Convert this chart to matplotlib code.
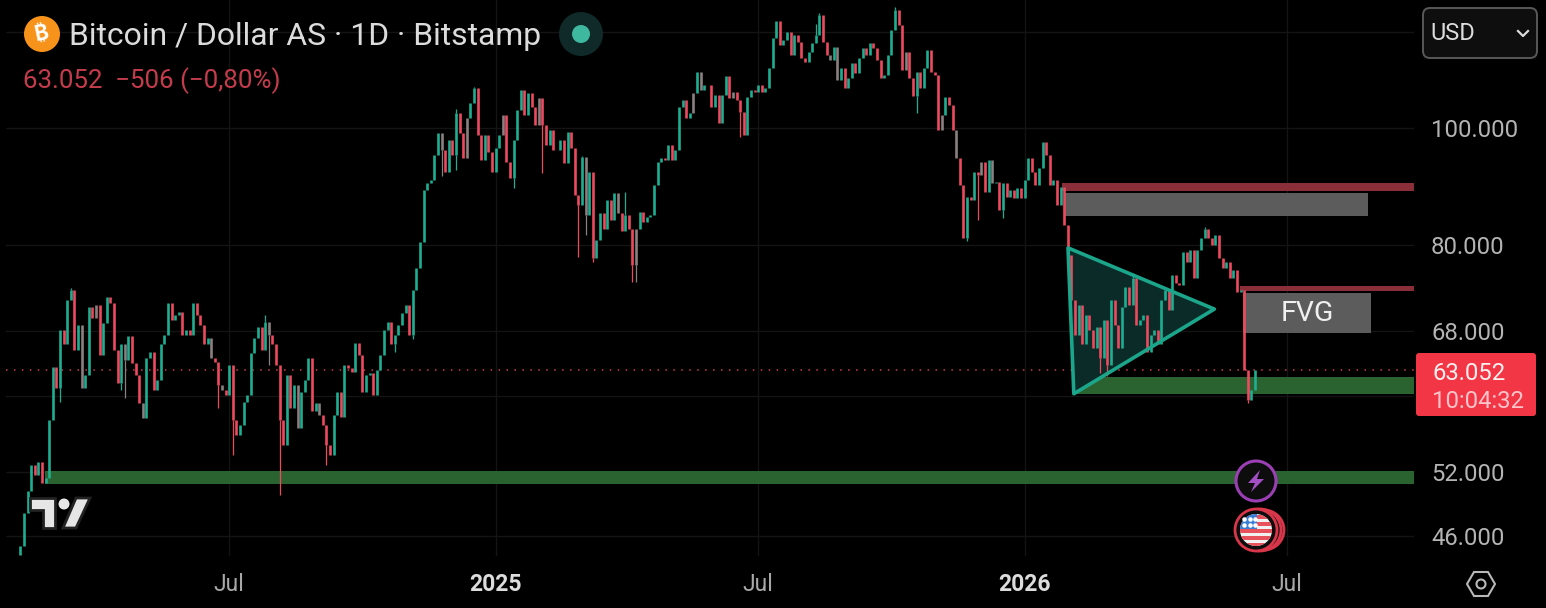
import pandas as pd
import matplotlib
matplotlib.use('Agg')
from matplotlib import pyplot as plt
from matplotlib import dates as mpl_dates
from matplotlib.patches import Circle, Polygon, FancyBboxPatch, Rectangle

plt.rcParams['font.family'] = ['Roboto', 'DejaVu Sans']

# closes in thousand USD, one value every ~2.5 days
close_k = [
    45.15, 48.05, 50.15, 52.65, 51.65, 52.95, 50.85, 51.35, 57.4, 63.4,
    61.0, 68.05, 66.25, 72.05, 73.45, 65.55, 68.75, 61.0, 62.5, 71.15,
    69.65, 71.45, 64.95, 69.05, 72.45, 71.65, 65.55, 61.5, 66.25, 64.3,
    67.25, 63.9, 62.5, 59.3, 57.6, 64.5, 65.35, 60.7, 61.9, 66.25,
    67.45, 71.65, 69.45, 70.05, 70.45, 67.45, 68.05, 67.45, 71.65, 70.05,
    68.75, 66.25, 67.05, 64.5, 64.0, 61.3, 60.7, 60.2, 63.7, 57.4,
    55.8, 56.8, 59.4, 60.2, 65.15, 67.05, 68.45, 65.55, 69.15, 67.45,
    66.25, 63.7, 57.4, 54.65, 62.5, 58.7, 61.3, 56.5, 60.5, 61.9,
    64.5, 58.3, 59.3, 57.9, 56.8, 54.65, 53.65, 57.9, 60.5, 57.7,
    63.7, 63.3, 62.8, 66.45, 64.95, 60.5, 62.5, 62.7, 60.2, 63.1,
    64.95, 68.05, 69.15, 66.25, 67.45, 68.75, 70.35, 71.45, 67.45, 73.45,
    76.65, 80.55, 88.85, 90.05, 90.55, 95.0, 99.1, 95.9, 91.95, 97.8,
    95.0, 102.9, 99.1, 94.45, 101.9, 104.8, 108.0, 98.7, 94.05, 98.7,
    95.6, 91.95, 96.3, 98.7, 102.5, 93.75, 90.95, 97.8, 103.5, 107.5,
    102.5, 106.9, 104.0, 100.6, 105.9, 100.6, 96.8, 99.6, 95.9, 95.9,
    97.8, 93.55, 99.2, 96.3, 88.05, 86.45, 94.65, 84.75, 91.95, 78.05,
    80.85, 85.05, 82.45, 87.25, 83.95, 88.35, 85.05, 82.15, 84.75, 82.45,
    77.05, 82.45, 85.25, 83.65, 84.35, 84.75, 89.75, 93.75, 94.45, 94.05,
    96.8, 94.05, 95.9, 104.0, 105.5, 101.9, 102.9, 106.9, 111.3, 107.5,
    108.6, 108.6, 104.0, 106.5, 101.0, 106.5, 110.4, 105.9, 107.1, 105.5,
    103.1, 98.7, 106.1, 107.5, 107.1, 108.6, 107.1, 108.0, 112.1, 118.6,
    122.7, 117.1, 118.2, 120.0, 114.9, 119.3, 117.8, 114.2, 113.4, 115.5,
    117.5, 119.3, 123.9, 117.8, 114.9, 113.8, 116.7, 109.6, 112.1, 108.0,
    110.0, 113.2, 111.0, 114.2, 116.4, 114.9, 117.5, 116.4, 113.8, 110.0,
    110.6, 114.9, 120.5, 125.1, 121.6, 111.7, 115.5, 110.0, 106.3, 111.3,
    108.0, 112.1, 116.0, 111.3, 110.6, 99.6, 102.5, 106.1, 104.4, 99.6,
    94.45, 89.75, 81.15, 87.75, 87.25, 91.95, 91.45, 93.75, 88.55, 94.05,
    90.05, 90.25, 85.55, 90.05, 87.75, 88.85, 87.55, 89.25, 87.55, 90.55,
    94.45, 91.95, 89.75, 92.65, 97.4, 95.0, 89.75, 90.55, 86.45, 89.45,
    83.15, 78.55, 72.05, 67.45, 71.45, 66.25, 70.05, 68.05, 65.85, 68.45,
    64.5, 69.45, 63.7, 72.05, 68.75, 65.85, 71.15, 73.85, 71.45, 75.15,
    68.75, 69.45, 70.05, 65.35, 67.45, 68.05, 66.25, 72.05, 73.45, 70.75,
    75.65, 74.45, 74.15, 78.95, 77.45, 79.25, 75.15, 79.25, 81.15, 82.45,
    81.15, 80.05, 81.65, 78.05, 76.65, 77.45, 75.15, 76.35, 73.15, 73.45,
    63.1, 59.6, 60.7, 63.052,
]
first_open_k = 44.4

# long wicks that stick out of the bodies
wick_bar = [0, 11, 14, 28, 29, 55, 59, 68, 69, 72, 85, 104, 109, 117, 121, 121, 126, 137, 145, 155,
            156, 157, 159, 168, 170, 171, 200, 221, 222, 243, 249, 263, 266, 273, 300, 302, 309, 329, 341]
wick_tip_k = [44.4, 59.4, 73.8, 60.7, 59.8, 58.7, 53.65, 70.05, 63.7, 49.75, 52.65, 65.25, 66.95, 91.35, 92.25, 103.6,
              108.2, 89.15, 91.75, 78.25, 94.8, 81.65, 77.45, 88.55, 74.65, 74.65, 98.4, 122.0, 124.4, 125.8,
              102.9, 80.65, 83.95, 84.2, 62.7, 62.4, 75.95, 82.85, 59.2]

# bars that look grey in the picture
grey_bars = [17, 21, 29, 34, 53, 56, 69, 77, 83, 117, 124, 134, 144, 157, 166, 171, 187, 189, 198, 225, 227, 246, 256, 260, 267, 270]

last_price_k = 63.052
y_ticks = [120, 100, 80, 68, 60, 52, 46]
y_labels = ['', '100.000', '80.000', '68.000', '', '52.000', '46.000']
x_ticks = ['2024-07-01', '2025-01-01', '2025-07-01', '2026-01-01', '2026-07-01']
x_labels = ['Jul', '2025', 'Jul', '2026', 'Jul']

W, H = 1546, 608
GREEN, RED, GREY = '#1fae92', '#ee4a5f', '#8a8080'

bar_dates = pd.date_range('2024-02-08', '2026-06-09', periods=len(close_k))
x = mpl_dates.date2num(bar_dates)
x_left = mpl_dates.date2num(pd.Timestamp('2024-01-29'))
x_right = mpl_dates.date2num(pd.Timestamp('2026-09-26 19:00'))


def day(text):
    return mpl_dates.date2num(pd.Timestamp(text))


fig = plt.figure(figsize=(W / 100, H / 100), dpi=100, facecolor='black')
ax = fig.add_axes([6 / W, (H - 556) / H, (1414 - 6) / W, 556 / H], facecolor='black')
ax.set_yscale('log')
ax.set_xlim(x_left, x_right)
ax.set_ylim(44.28, 127.6)

ax.set_yticks(y_ticks)
ax.set_yticklabels(y_labels)
ax.minorticks_off()
ax.yaxis.tick_right()
ax.set_xticks([day(d) for d in x_ticks])
ax.set_xticklabels(x_labels)
ax.tick_params(axis='y', length=0, pad=12.3, labelsize=17.2, labelcolor='#b4b4b4')
ax.tick_params(axis='x', length=0, pad=12.5, labelsize=16.5, labelcolor='#a8a8a8')
for lab in ax.get_xticklabels():
    if lab.get_text().startswith('20'):
        lab.set_fontweight('bold')
        lab.set_color('#dcdcdc')
for s in ax.spines.values():
    s.set_visible(False)
ax.grid(True, color='#141414', linewidth=1.0, zorder=0)
ax.set_axisbelow(True)


def zone(start, end, top, bottom, color, z=1):
    ax.add_patch(Rectangle((start, bottom), end - start, top - bottom, facecolor=color, edgecolor='none', zorder=z))


zone(day('2024-02-25'), x_right, 52.06, 50.8, '#2b6330')
zone(day('2026-02-04'), x_right, 62.25, 60.3, '#2b6330')
zone(day('2026-01-27'), x_right, 90.05, 88.65, '#8a2f3a')
zone(day('2026-05-30'), x_right, 74.05, 73.35, '#8a2f3a')
zone(day('2026-01-29'), day('2026-08-26'), 88.35, 84.65, '#5c5c5c')
zone(day('2026-06-01'), day('2026-08-28'), 73.05, 67.75, '#5c5c5c')
ax.text(day('2026-07-15'), 70.3, 'FVG', color='#f0f0f0', fontsize=20.5, ha='center', va='center', zorder=6)

ax.axhline(last_price_k, color='#c8404f', linewidth=1.1, linestyle=(0, (1, 4.2)), zorder=2)

# triangle fill goes under the candles
tri = [(day('2026-01-31'), 79.6), (day('2026-05-12'), 70.85), (day('2026-02-04'), 60.3)]
ax.add_patch(Polygon(tri, closed=True, facecolor='#0a2b27', edgecolor='none', zorder=2))

# candles
opens = [first_open_k] + close_k[:-1]
colors = []
for i in range(len(close_k)):
    if i in grey_bars:
        colors.append(GREY)
    elif close_k[i] >= opens[i]:
        colors.append(GREEN)
    else:
        colors.append(RED)
ax.vlines(x, opens, close_k, colors=colors, linewidth=1.9, zorder=3)
for b, tip in zip(wick_bar, wick_tip_k):
    ax.vlines(x[b], tip, max(opens[b], close_k[b]) if tip > close_k[b] else min(opens[b], close_k[b]),
              colors=colors[b], linewidth=0.9, zorder=3)

ax.add_patch(Polygon(tri, closed=True, fill=False, edgecolor='#1ba68c', linewidth=2.6, joinstyle='round', zorder=5))

# overlay in pixels for the app furniture
ov = fig.add_axes([0, 0, 1, 1], facecolor='none')
ov.set_xlim(0, W)
ov.set_ylim(H, 0)
ov.axis('off')

ov.add_patch(Circle((42, 34), 18, facecolor='#f7931a', edgecolor='none'))
ov.text(42, 34, '\u20bf', color='white', fontsize=15, fontweight='bold', ha='center', va='center',
        rotation=12, family=['Inter', 'Noto Sans', 'Open Sans', 'Lato', 'DejaVu Sans'])
ov.text(69, 36.5, 'Bitcoin / Dollar AS \u00b7 1D \u00b7 Bitstamp', color='#dcdcdc', fontsize=22.95, va='center')
ov.text(23, 80.5, '63.052  \u2212506 (\u22120,80%)', color='#c43c4c', fontsize=18.6, va='center')
ov.add_patch(Circle((581, 34), 22, facecolor='#0f2a28', edgecolor='none'))
ov.add_patch(Circle((581, 34), 9, facecolor='#3fb8a0', edgecolor='none'))

ov.add_patch(FancyBboxPatch((1423, 8), 114, 50, boxstyle='round,pad=0,rounding_size=7',
                            facecolor='#0e0e0e', edgecolor='#585858', linewidth=1.4))
ov.text(1430, 34, 'USD', color='#dcdcdc', fontsize=17, va='center')
ov.plot([1518, 1523, 1528], [31, 36, 31], color='#dcdcdc', linewidth=1.6)

# last price tag
ov.add_patch(FancyBboxPatch((1416, 353), 120, 63, boxstyle='round,pad=0,rounding_size=3',
                            facecolor='#f23645', edgecolor='none'))
ov.text(1432, 374, '63.052', color='#fff0f0', fontsize=17.2, va='center')
ov.text(1432, 402, '10:04:32', color='#ffc4ca', fontsize=17.2, va='center')

# tradingview logo
ov.add_patch(Polygon([(30, 498), (55, 498), (55, 528), (43, 528), (43, 510), (30, 510)],
                     facecolor='#e6e6e6', edgecolor='#222222', linewidth=2))
ov.add_patch(Circle((64, 504), 5.5, facecolor='#e6e6e6', edgecolor='none'))
ov.add_patch(Polygon([(76, 498), (90, 498), (76, 528), (63, 528)],
                     facecolor='#e6e6e6', edgecolor='#222222', linewidth=2))

# event icons
ov.add_patch(Circle((1256, 481), 20, facecolor='#0d0d0d', edgecolor='#9c3fb5', linewidth=2.2, zorder=5))
ov.add_patch(Polygon([(1260, 470), (1248, 483), (1255, 483), (1251, 492), (1264, 479), (1257, 479)],
                     facecolor='#a24fc4', edgecolor='none', zorder=6))
ov.add_patch(Circle((1264, 530), 20, facecolor='#0d0d0d', edgecolor='#d9364a', linewidth=2, zorder=5))
ov.add_patch(Circle((1260, 530), 21, facecolor='#0d0d0d', edgecolor='#d9364a', linewidth=2, zorder=5))
ov.add_patch(Circle((1256, 530), 21, facecolor='#0d0d0d', edgecolor='#d9364a', linewidth=2, zorder=5))
flag = Circle((1256, 530), 16, facecolor='#f0f0f0', edgecolor='none', zorder=6)
ov.add_patch(flag)
for top in [515, 522, 529, 536, 543]:
    stripe = Rectangle((1238, top), 36, 3.5, facecolor='#e8505c', edgecolor='none', zorder=6)
    ov.add_patch(stripe)
    stripe.set_clip_path(flag)
canton = Rectangle((1238, 512), 19, 17, facecolor='#3a7fd5', edgecolor='none', zorder=7)
ov.add_patch(canton)
canton.set_clip_path(flag)
ov.scatter([1244, 1250, 1255, 1244, 1250, 1255], [519, 519, 519, 525, 525, 525], s=5, c='white', zorder=8)

# settings hexagon
ov.add_patch(Polygon([(1467, 584), (1474, 572), (1488, 572), (1495, 584), (1488, 596), (1474, 596)],
                     fill=False, edgecolor='#b8b8b8', linewidth=1.5))
ov.add_patch(Circle((1481, 584), 4.5, fill=False, edgecolor='#b8b8b8', linewidth=1.5))

plt.savefig('out.png', dpi=100, facecolor='black')
